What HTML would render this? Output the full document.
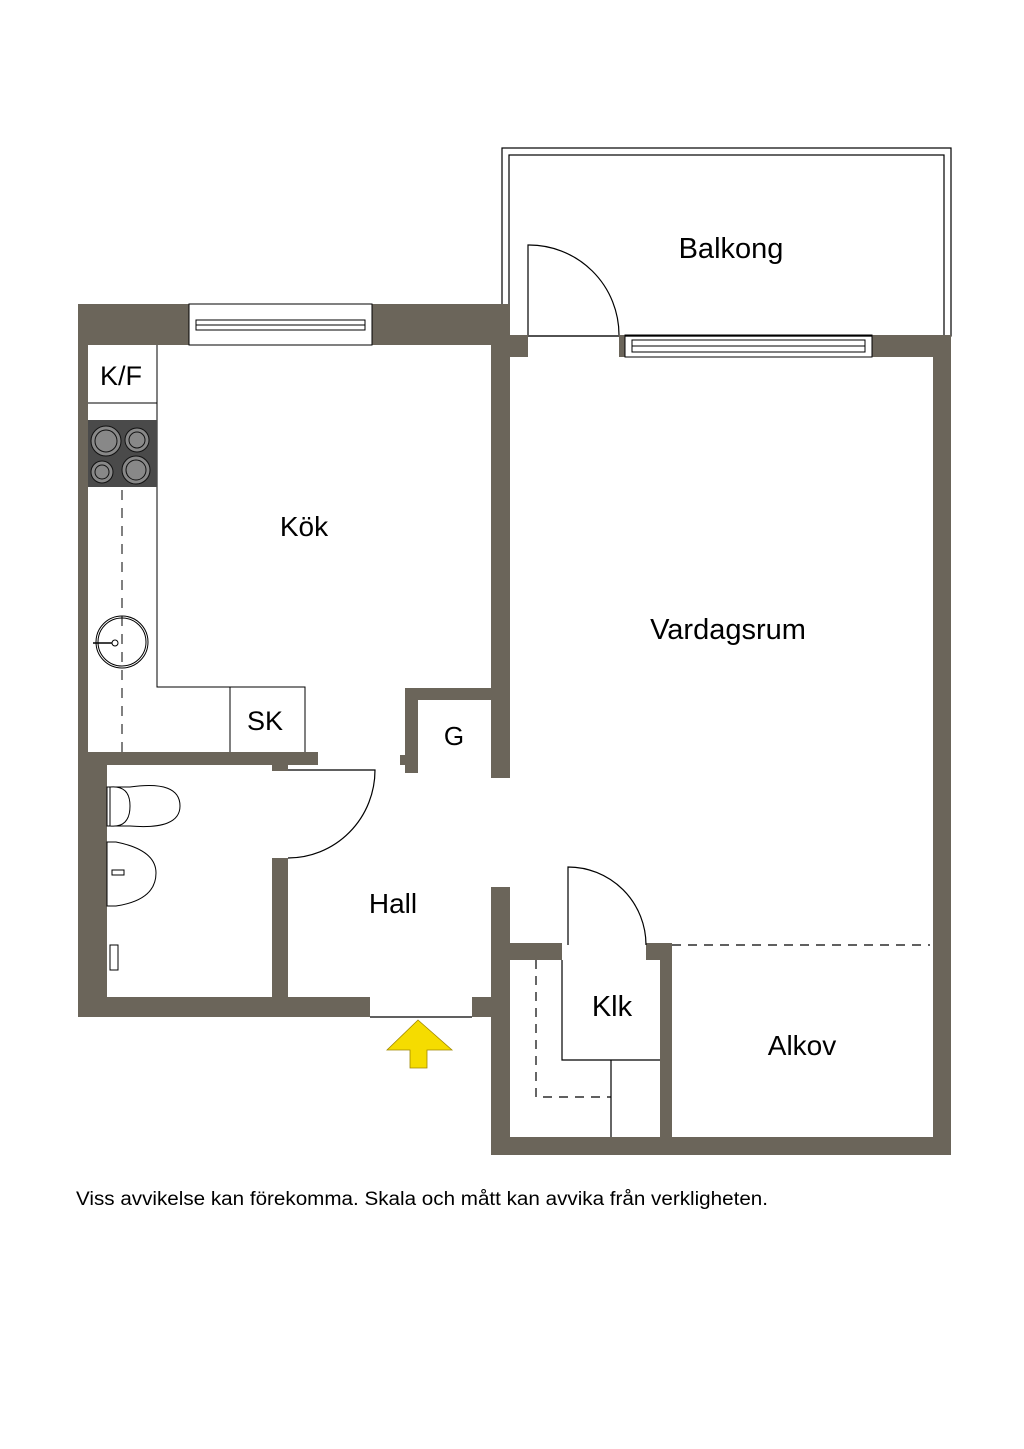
<!DOCTYPE html>
<html><head><meta charset="utf-8"><style>
html,body{margin:0;padding:0;background:#fff;}
svg{display:block;}
text{font-family:"Liberation Sans",sans-serif;fill:#000;}
</style></head><body>
<svg width="1024" height="1449" viewBox="0 0 1024 1449" xmlns="http://www.w3.org/2000/svg">
<rect width="1024" height="1449" fill="#fff"/>
<!-- Balcony -->
<rect x="502" y="148" width="449" height="188" fill="none" stroke="#000" stroke-width="1.2"/>
<rect x="509" y="155" width="435" height="181" fill="none" stroke="#000" stroke-width="1.2"/>
<path d="M528 335 V245 A90 90 0 0 1 619 335" fill="none" stroke="#000" stroke-width="1.2"/>
<g fill="#6b655a">
<rect x="78" y="304" width="10" height="713"/>
<rect x="78" y="304" width="111" height="41"/>
<rect x="372" y="304" width="137" height="41"/>
<rect x="491" y="304" width="19" height="474"/>
<rect x="491" y="335" width="37" height="22"/>
<rect x="619" y="335" width="6" height="22"/>
<rect x="872" y="335" width="79" height="22"/>
<rect x="933" y="335" width="18" height="820"/>
<rect x="405" y="688" width="86" height="12"/>
<rect x="405" y="688" width="13" height="85"/>
<rect x="400" y="755" width="8" height="10"/>
<rect x="78" y="752" width="240" height="13"/>
<rect x="272" y="760" width="16" height="11"/>
<rect x="78" y="752" width="29" height="265"/>
<rect x="272" y="858" width="16" height="139"/>
<rect x="78" y="997" width="292" height="20"/>
<rect x="472" y="997" width="38" height="20"/>
<rect x="491" y="887" width="19" height="268"/>
<rect x="510" y="943" width="52" height="17"/>
<rect x="646" y="943" width="26" height="17"/>
<rect x="660" y="943" width="12" height="194"/>
<rect x="491" y="1137" width="460" height="18"/>
</g>
<g fill="none" stroke="#000" stroke-width="1">
<rect x="189" y="304" width="183" height="41"/>
<rect x="196" y="320" width="169" height="10"/>
<line x1="196" y1="325" x2="365" y2="325"/>
<rect x="625" y="335" width="247" height="22"/>
<rect x="632" y="340" width="233" height="12"/>
<line x1="632" y1="346" x2="865" y2="346"/>
</g>
<g fill="none" stroke="#000" stroke-width="1">
<path d="M157 345 V687 H305 V752"/>
<line x1="230" y1="687" x2="230" y2="752"/>
<line x1="88" y1="403" x2="157" y2="403"/>
<line x1="122" y1="490" x2="122" y2="752" stroke-dasharray="10,8"/>
<circle cx="122" cy="642" r="26"/>
<circle cx="122" cy="642" r="24"/>
<line x1="93" y1="643" x2="116" y2="643" stroke-width="1.5"/>
</g>
<rect x="88" y="420" width="69" height="67" fill="#4a4a4a"/>
<g stroke="#111" stroke-width="1" fill="#888">
<circle cx="106" cy="441" r="15"/><circle cx="106" cy="441" r="11"/>
<circle cx="137" cy="440" r="12"/><circle cx="137" cy="440" r="8"/>
<circle cx="102" cy="472" r="11"/><circle cx="102" cy="472" r="7"/>
<circle cx="136" cy="470" r="14"/><circle cx="136" cy="470" r="10"/>
</g>
<circle cx="115" cy="643" r="3" fill="#fff" stroke="#000"/>
<path d="M288 770 H375 A87 88 0 0 1 288 858" fill="none" stroke="#000" stroke-width="1.2"/>
<g fill="#fff" stroke="#000" stroke-width="1">
<path d="M107 787 H130 Q180 780 180 806 Q180 830 130 826 H107 Z"/>
<path d="M110 787 Q130 785 130 806 Q130 828 110 826 Z"/>
<path d="M107 842 H116 Q156 850 156 873 Q156 900 116 906 H107 Z"/>
<rect x="112" y="870" width="12" height="5"/>
<rect x="110" y="945" width="8" height="25"/>
</g>
<g fill="none" stroke="#000" stroke-width="1.2">
<path d="M568 945 V867 A78 78 0 0 1 646 945"/>
<path d="M562 960 V1060 H660"/>
<line x1="611" y1="1060" x2="611" y2="1137"/>
<path d="M536 960 V1097 H611" stroke-dasharray="9,7"/>
<line x1="672" y1="945" x2="930" y2="945" stroke-dasharray="9,7"/>
<line x1="370" y1="1017" x2="472" y2="1017"/>
</g>
<polygon points="418,1020 452,1050 427,1050 427,1068 410,1068 410,1050 387,1050" fill="#f5dc00" stroke="#a08800" stroke-width="0.8"/>
<text x="731" y="258" font-size="29" text-anchor="middle">Balkong</text>
<text x="304" y="536" font-size="28" text-anchor="middle">Kök</text>
<text x="728" y="639" font-size="29" text-anchor="middle">Vardagsrum</text>
<text x="393" y="913" font-size="28" text-anchor="middle">Hall</text>
<text x="612" y="1016" font-size="29" text-anchor="middle">Klk</text>
<text x="802" y="1055" font-size="28" text-anchor="middle">Alkov</text>
<text x="121" y="385" font-size="27" text-anchor="middle">K/F</text>
<text x="265" y="730" font-size="27" text-anchor="middle">SK</text>
<text x="454" y="745" font-size="26" text-anchor="middle">G</text>
<text x="76" y="1205" font-size="19" textLength="692" lengthAdjust="spacingAndGlyphs">Viss avvikelse kan förekomma. Skala och mått kan avvika från verkligheten.</text>
</svg>
</body></html>
